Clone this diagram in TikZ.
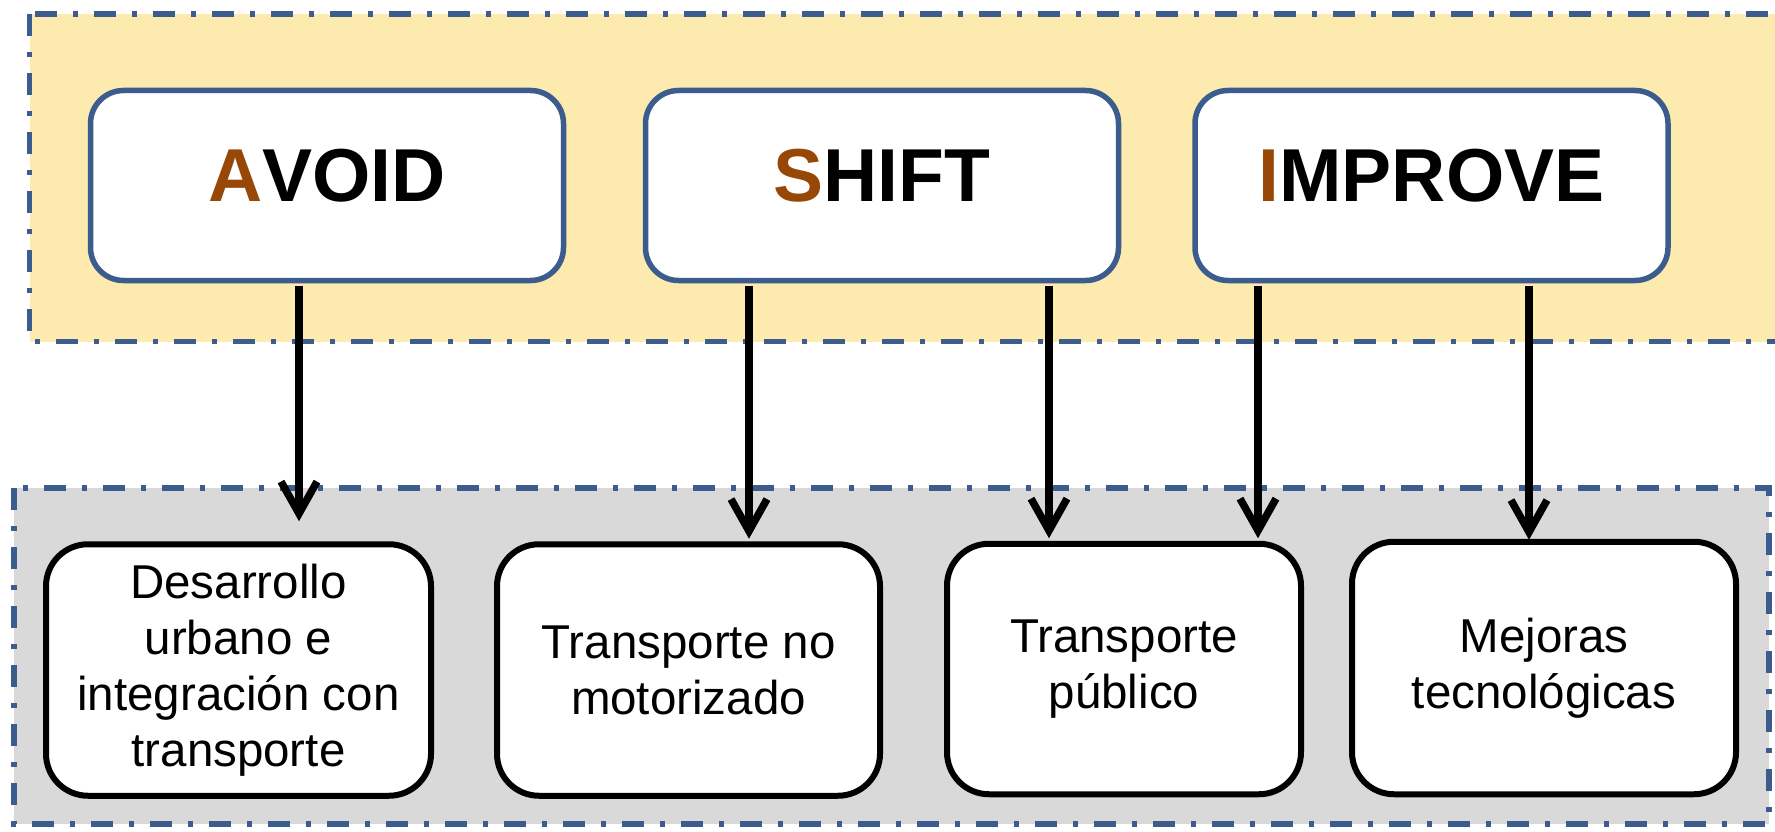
\documentclass[tikz,border=0pt]{standalone}
\usepackage{fontspec}
\setmainfont{Liberation Sans}
\usetikzlibrary{arrows.meta}
\definecolor{bandfill}{RGB}{253,234,175}
\definecolor{bandline}{RGB}{59,92,140}
\definecolor{accent}{RGB}{152,72,6}
\definecolor{grayfill}{RGB}{217,217,217}

\begin{document}
\begin{tikzpicture}[x=1pt,y=-1pt,
  band/.style={draw=bandline, line width=5.5pt,
    dash pattern=on 22pt off 16pt on 5pt off 16pt},
  pillar/.style={draw=bandline, fill=white, line width=5.5pt,
    rounded corners=33pt, minimum width=473pt, minimum height=190pt,
    inner sep=0pt, font=\fontsize{75}{90}\selectfont\bfseries, text depth=20pt},
  measure/.style={draw=black, fill=white, line width=6pt,
    rounded corners=42pt, inner sep=0pt, align=center,
    font=\fontsize{47.5}{56}\selectfont},
  link/.style={draw=black, line width=7.5pt,
    -{Straight Barb[length=32pt,width=36pt]},
    shorten <=2.5pt, shorten >=2.5pt},
]
\useasboundingbox (0,0) rectangle (1775,832);
\clip (0,0) rectangle (1775,832);

% strategy band and measures band
\path[band, fill=bandfill] (29.5,14) rectangle (1810,341.5);
\path[band, fill=grayfill] (14,488) rectangle (1769,824);

% strategies
\node[pillar] (avoid)   at (327,185.5)  {{\color{accent}A}VOID};
\node[pillar] (shift)   at (882,185.5)  {{\color{accent}S}HIFT};
\node[pillar] (improve) at (1431.5,185.5) {{\color{accent}I}MPROVE};

% measures
\node[measure, minimum width=385pt, minimum height=251.5pt] (b1) at (238.5,670)
  {Desarrollo\\urbano e\\integración con\\transporte};
\node[measure, minimum width=383pt, minimum height=251.5pt] (b2) at (688.5,670)
  {Transporte no\\motorizado};
\node[measure, minimum width=354pt, minimum height=250.5pt] (b3) at (1124,669)
  {Transporte\\público};
\node[measure, minimum width=384pt, minimum height=252.5pt] (b4) at (1544,668)
  {Mejoras\\tecnológicas};

% links from strategies to measures
\draw[link, shorten >=20pt] ([xshift=-28pt]avoid.south) -- ([xshift=-28pt]avoid.south |- b1.north);
\draw[link] ([xshift=-133pt]shift.south) -- ([xshift=-133pt]shift.south |- b2.north);
\draw[link] ([xshift=167pt]shift.south) -- ([xshift=167pt]shift.south |- b3.north);
\draw[link] ([xshift=-173.5pt]improve.south) -- ([xshift=-173.5pt]improve.south |- b3.north);
\draw[link, shorten >=-1pt] ([xshift=97.5pt]improve.south) -- ([xshift=97.5pt]improve.south |- b4.north);
\end{tikzpicture}
\end{document}
